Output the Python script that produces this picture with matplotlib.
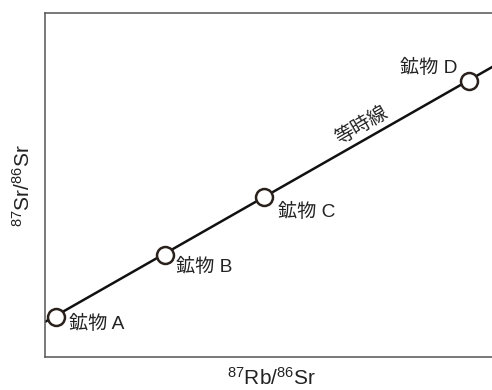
import matplotlib
matplotlib.use('Agg')
import matplotlib.pyplot as plt

plt.rcParams['font.family'] = ['Liberation Sans', 'Noto Sans CJK JP', 'DejaVu Sans']
plt.rcParams['mathtext.default'] = 'regular'

# mineral samples on the Rb-Sr isochron
minerals = ['鉱物 A', '鉱物 B', '鉱物 C', '鉱物 D']
rb_sr = [0.24, 2.64, 4.81, 9.32]
sr_sr = [1.16, 2.97, 4.65, 8.02]

# isochron end points (x, y)
iso_x = [0, 10]
iso_y = [1.02, 8.56]

# label offsets in pixels from each point
label_dx = [13, 11, 14, -12]
label_dy = [-7, -12, -15, 13]
label_ha = ['left', 'left', 'left', 'right']

fig = plt.figure(figsize=(4.92, 3.9), dpi=100)
ax = fig.add_axes([45 / 492, 33 / 390, 455 / 492, 344 / 390])

ax.plot(iso_x, iso_y, color='#111111', lw=1.8, solid_capstyle='butt', zorder=2)
ax.plot(rb_sr, sr_sr, 'o', ms=12.2, mfc='white', mec='#2b211c', mew=1.8,
        zorder=3, clip_on=False)

for name, x, y, dx, dy, ha in zip(minerals, rb_sr, sr_sr, label_dx, label_dy, label_ha):
    ax.annotate(name, (x, y), xytext=(dx, dy), textcoords='offset pixels',
                ha=ha, va='center', fontsize=13.8, color='#222222')

ax.text(6.97, 6.74, '等時線', rotation=30, ha='center', va='center',
        fontsize=13.8, color='#222222', rotation_mode='anchor')

ax.set_xlim(0, 10)
ax.set_ylim(0, 10)
ax.set_xticks([])
ax.set_yticks([])
ax.spines['right'].set_visible(False)
for s in ['left', 'bottom', 'top']:
    ax.spines[s].set_color('#555555')
    ax.spines[s].set_linewidth(1.1)

ax.set_xlabel(r'$^{87}$Rb/$^{86}$Sr', fontsize=15, color='#222222')
ax.set_ylabel(r'$^{87}$Sr/$^{86}$Sr', fontsize=15, color='#222222')
ax.xaxis.set_label_coords(226 / 455, -21 / 344, transform=ax.transAxes)
ax.yaxis.set_label_coords(-22 / 455, 172 / 344, transform=ax.transAxes)
ax.xaxis.label.set_va('center')
ax.yaxis.label.set_va('center')

fig.savefig('out.png', dpi=100)
